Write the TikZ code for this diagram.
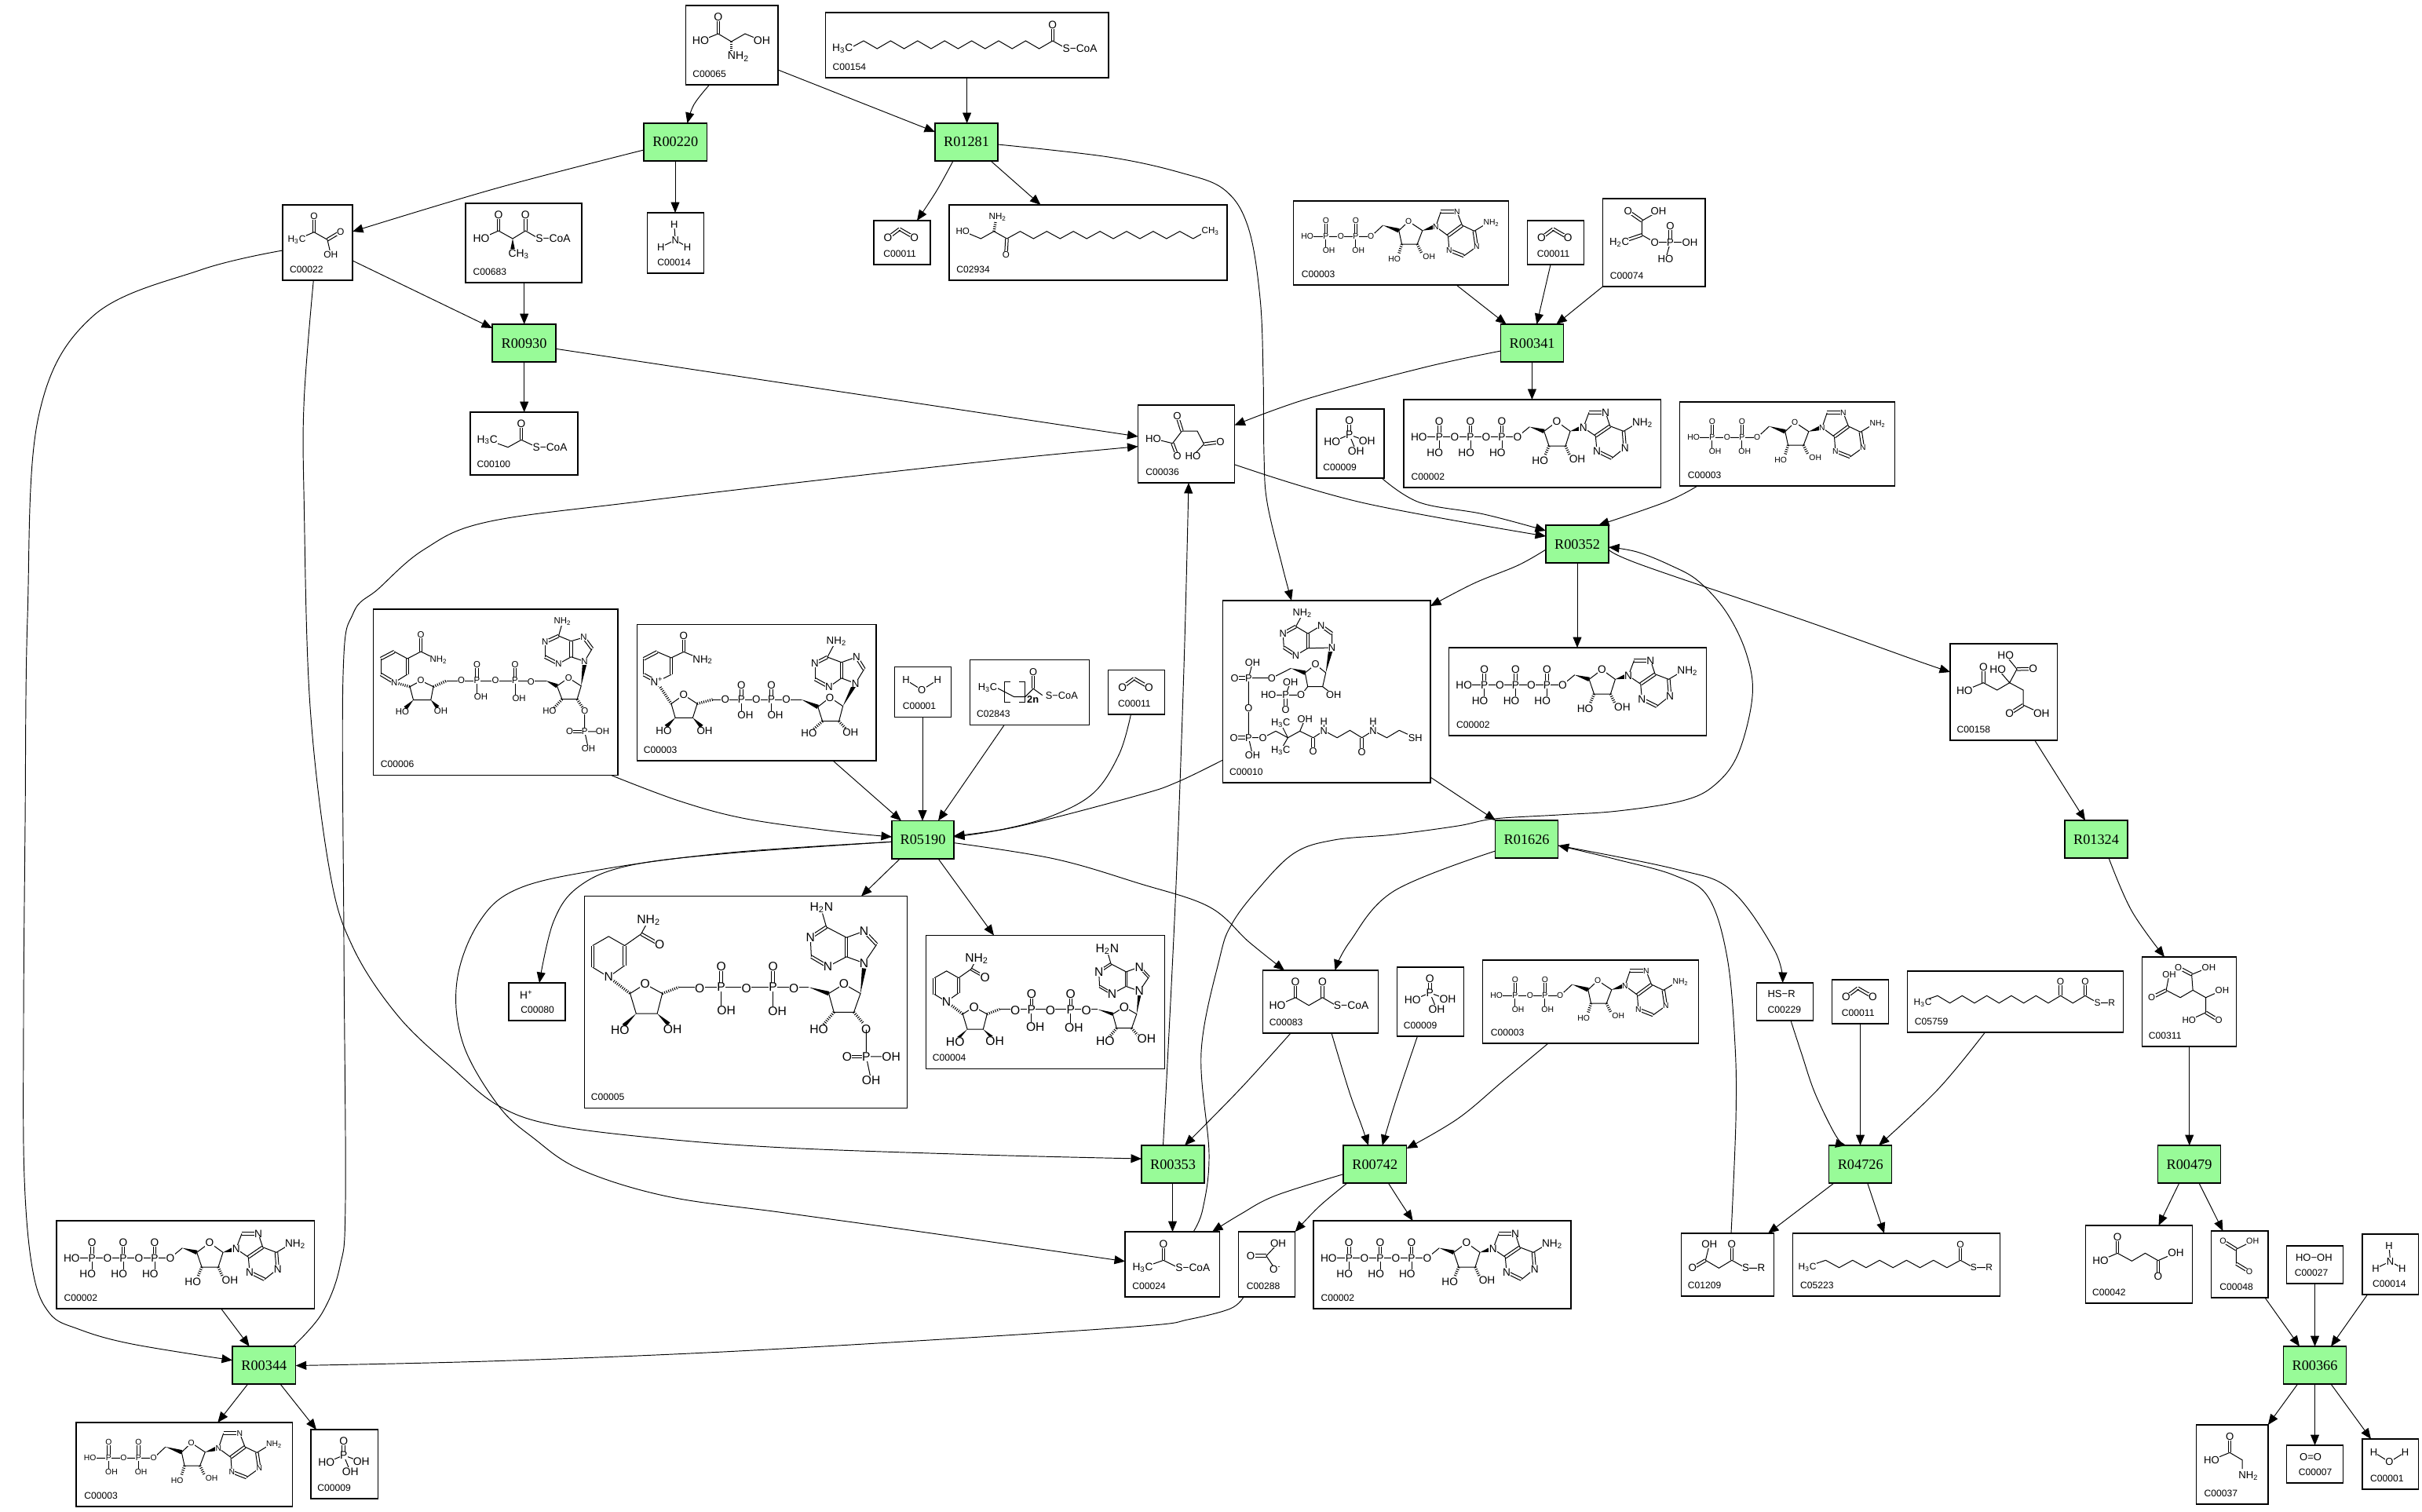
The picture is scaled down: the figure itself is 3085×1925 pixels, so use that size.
\documentclass[tikz,border=0pt]{standalone}
\usepackage{fontspec}
\setmainfont{Liberation Sans}
\newfontfamily\serfam{Liberation Serif}
\usetikzlibrary{arrows.meta,calc}
\newcount\an
\def\asz{7.8}
\tikzset{
 cpd/.style={draw=black,line width=.028cm,fill=white,inner sep=0pt,outer sep=0pt},
 rxn/.style={draw=black,line width=.028cm,fill=rxngreen,inner sep=0pt,outer sep=0pt,font=\serfam\fontsize{10.4}{12}\selectfont},
 lbl/.style={anchor=base west,inner sep=0pt,font=\fontsize{6.9}{8}\selectfont},
 edge/.style={draw=black,line width=.019cm,-{Triangle[length=.27cm,width=.22cm]}},
 bd/.style={draw=black,line width=.02cm},
 atm/.style={inner sep=.2pt,fill=white,font=\fontsize{\asz}{\asz}\selectfont},
}
\definecolor{rxngreen}{RGB}{152,251,152}
\newcommand\Bd[1]{\draw[bd] #1;}
\newcommand\Db[2]{\draw[bd] ($(#1)!.035cm!90:(#2)$) -- ($(#2)!.035cm!-90:(#1)$);\draw[bd] ($(#1)!.035cm!-90:(#2)$) -- ($(#2)!.035cm!90:(#1)$);}
\newcommand\Wd[2]{\fill[black] (#1) -- ($(#2)!.055cm!90:(#1)$) -- ($(#2)!.055cm!-90:(#1)$) -- cycle;}
\newcommand\Hs[2]{\draw[line width=.07cm,dash pattern=on .02cm off .035cm] (#1) -- (#2);}
\newcommand\At[2]{\global\advance\an by 1 \node[atm] (t\the\an) at (#1) {#2};}
\newcommand\Zg[5]{\draw[bd] (#1,#2) \foreach \i in {1,...,#5} { -- ({#1+\i*#3},{#2+#4*mod(\i,2)}) };}
\newcommand\Mol[4]{\begin{scope}[shift={(#1,#2)},scale=#3]#4\end{scope}}
\newcommand\cbox[7]{\node[cpd,minimum width={(#5-#3)*0.02cm},minimum height={(#6-#4)*0.02cm}] (#1) at ({(#3+#5)/2},{(#4+#6)/2}) {};
 \node[lbl] (#1-l) at ({#3+#7},{#6-10}) {#2};}
\newcommand\rbox[5]{\node[rxn,minimum width={(#4-#2)*0.02cm},minimum height={(#5-#3)*0.02cm}] (#1) at ({(#2+#4)/2},{(#3+#5)/2}) {#1};}
\newcommand\Ec[1]{\draw[edge] plot[smooth,tension=.6] coordinates {#1};}
\newcommand\tb{\textsubscript{2}}
\newcommand\tc{\textsubscript{3}}
% ---------- molecules
\newcommand\mATP{\def\asz{7.8}
\Db{45.3,47.3}{45.3,28}\Db{85,47.3}{85,28}\Db{125,47.3}{125,28}
\Bd{(19.3,47.3)--(145,47.3)--(160.3,34.7)}
\Bd{(45.3,47.3)--(45.3,67) (85,47.3)--(85,67) (125,47.3)--(125,67)}
\Wd{160.3,34.7}{178.7,40.3}
\Bd{(178.7,40.3)--(195,28)--(212,40.3)--(206,59)--(185,59)--(178.7,40.3)}
\Hs{185,59}{180,71}\Hs{206,59}{211,70}\Wd{212,40.3}{224,37}
\Bd{(228.7,35.7)--(236,16.3)}\Db{236,16.3}{257,16.3}
\Bd{(257,16.3)--(262.7,33.7)--(280,40.3)--(294,32) (228.7,35.7)--(244.3,46.3)}
\Db{244.3,46.3}{262.7,33.7}\Db{280,40.3}{281.7,61.3}\Bd{(281.7,61.3)--(265,74.7)}\Db{265,74.7}{246,65.3}\Bd{(246,65.3)--(244.3,46.3)}
\At{19.3,47.3}{HO}\At{45.3,47.3}{P}\At{45.3,28}{O}\At{39.7,67.3}{HO}\At{65,47.3}{O}\At{85,47.3}{P}\At{85,28}{O}\At{79.7,67.3}{HO}\At{105,47.3}{O}\At{125,47.3}{P}\At{125,28}{O}\At{119.3,67.3}{HO}\At{145,47.3}{O}
\At{195,28}{O}\At{173.7,77.3}{HO}\At{221,75.7}{OH}\At{228.7,35.7}{N}\At{257,16.3}{N}\At{304,29.7}{NH\tb}\At{281.7,61.3}{N}\At{246,65.3}{N}}
\newcommand\mADP{\def\asz{5.9}
\Db{41.3,45.3}{41.3,25}\Db{79.3,45.3}{79.3,25}
\Bd{(17.7,45.3)--(98.7,45.3)--(114,31)}
\Bd{(41.3,45.3)--(41.3,63) (79.3,45.3)--(79.3,63)}
\Wd{114,31}{134.3,37.7}
\Bd{(134.3,37.7)--(146.7,26)--(164.3,37.7)--(157.7,55)--(138,55)--(134.3,37.7)}
\Hs{138,55}{134,68}\Hs{157.7,55}{163,66}\Wd{164.3,37.7}{178,33.5}
\Bd{(181.3,32.7)--(187.7,13.7)}\Db{187.7,13.7}{208.3,13.7}
\Bd{(208.3,13.7)--(215,31)--(230.3,38.3)--(244,30) (181.3,32.7)--(197,44.3)}
\Db{197,44.3}{215,31}\Db{230.3,38.3}{233.3,58.3}\Bd{(233.3,58.3)--(217,70)}\Db{217,70}{198.3,62.7}\Bd{(198.3,62.7)--(197,44.3)}
\At{17.7,45.3}{HO}\At{41.3,45.3}{P}\At{41.3,25}{O}\At{45,63.3}{OH}\At{60.3,45.3}{O}\At{79.3,45.3}{P}\At{79.3,25}{O}\At{82.7,63.3}{OH}\At{98.7,45.3}{O}
\At{146.7,26}{O}\At{128.7,74.3}{HO}\At{172.7,71}{OH}\At{181.3,32.7}{N}\At{208.3,13.7}{N}\At{252,27.7}{NH\tb}\At{233.3,58.3}{N}\At{198.3,62.7}{N}}
\newcommand\mPi{\def\asz{7.9}
\Db{41.7,32.7}{41.7,14.3}\Bd{(41.7,32.7)--(19.7,42) (41.7,32.7)--(64.3,41) (41.7,32.7)--(50.3,53.7)}
\At{41.7,14.3}{O}\At{41.7,32.7}{P}\At{19.7,42}{HO}\At{64.3,41}{OH}\At{50.3,53.7}{OH}}
\newcommand\mCO{\def\asz{7.8}
\Db{18,21.7}{32.8,10.7}\Db{32.8,10.7}{51.7,21.7}\At{17.9,21.7}{O}\At{51.7,21.7}{O}}
\newcommand\mNH{\def\asz{7.4}
\Bd{(35.7,34.7)--(34.2,14.7) (35.7,34.7)--(17.3,43.7) (35.7,34.7)--(51,43.7)}
\At{34.2,14.7}{H}\At{35.7,34.7}{N}\At{17.3,43.7}{H}\At{51,43.7}{H}}
\newcommand\mWat{\def\asz{7.4}
\Bd{(14.6,16.7)--(34.7,29.3)--(54.8,16.7)}\At{14.6,16.7}{H}\At{54.8,16.7}{H}\At{34.7,29.3}{O}}
\newcommand\mNADH[2]{\def\asz{8.9}
\Bd{(30.6,103)--(10.2,90.6)}\Db{10.2,90.6}{10.2,63}\Bd{(10.2,63)--(30.6,51.3)--(51,63)--(72,48.2)--(81.6,30.4)}\Db{51,63}{51,88.4}\Bd{(51,88.4)--(30.6,103)}\Db{72,48.2}{95.7,61.6}
\Hs{30.6,103}{58,124}
\Bd{(58,124)--(77,112)--(99,124)--(92.5,149.6)--(65.7,149.6)--(58,124)}
\Wd{65.7,149.6}{50,165}\Wd{92.5,149.6}{107,163}\Hs{99,124}{120,116}
\Db{174,116}{174,89.7}\Db{240,116}{240,89.7}
\Bd{(120,116)--(285.7,116) (174,116)--(174,145) (240,116)--(240,145)}
\Wd{285.7,116}{311,124}
\Bd{(311,124)--(330.4,112)--(351.4,124)--(343,147.8)--(317.6,147.8)--(311,124)}
\Hs{317.6,147.8}{304,164}\Hs{343,147.8}{355,162}\Wd{351.4,124}{356,92}
\Bd{(356,85.3)--(372,61.6)}\Db{372,61.6}{356,44.6}\Bd{(356,44.6)--(333.6,52.7)--(308,39.3)--(303,22) (356,85.3)--(333.6,77.2)}
\Db{333.6,77.2}{333.6,52.7}\Db{308,39.3}{287.6,52.7}\Bd{(287.6,52.7)--(288.8,77.2)}\Db{288.8,77.2}{310,89.7}\Bd{(310,89.7)--(333.6,77.2)}
\At{30.6,103}{N}\At{81.6,30.4}{NH\tb}\At{95.7,61.6}{O}\At{77,112}{O}\At{45.3,171}{HO}\At{112,169.6}{OH}\At{146.7,117.4}{O}\At{174,116}{P}\At{174,89.7}{O}\At{180.5,145.5}{OH}\At{206,117.4}{O}\At{240,116}{P}\At{240,89.7}{O}\At{245.5,146.4}{OH}\At{266.6,117.4}{O}
\At{330.4,112}{O}\At{298.5,170}{HO}\At{#1}{#2}\At{356,85.3}{N}\At{356,44.6}{N}\At{301.8,14.7}{H\tb N}\At{287.6,52.7}{N}\At{310,89.7}{N}}
\newcommand\mNADPtail{\Bd{(358.7,170)--(358.7,204.4)--(390.5,204.4) (358.7,204.4)--(365,234.4)}\Db{358.7,204.4}{334.4,204.4}
\At{358.7,204.4}{P}\At{334.4,204.4}{O}\At{390.5,204.4}{OH}\At{365,234.4}{OH}}
\newcommand\mNADP{\def\asz{6.5}
\Db{26.8,93.3}{9.6,83}\Bd{(9.6,83)--(9.6,63)}\Db{9.6,63}{26.8,54}\Bd{(26.8,54)--(43.4,63)--(60.6,54)--(83,65)}\Db{43.4,63}{43.4,83}\Bd{(43.4,83)--(26.8,93.3)}\Db{60.6,54}{60.6,33}
\Hs{26.8,93.3}{46.6,98.7}
\Bd{(46.6,98.7)--(60.6,91)--(76.5,98.7)--(73.3,115.6)--(51,115.6)--(46.6,98.7)}
\Wd{51,115.6}{41,126}\Wd{73.3,115.6}{82,125}\Hs{76.5,98.7}{93.8,91}
\Db{132,91}{132,70.5}\Db{180.5,91}{180.5,70.5}
\Bd{(93.8,91)--(220,91) (132,91)--(132,112) (180.5,91)--(180.5,112)}
\Wd{220,91}{234,97.8}
\Bd{(234,97.8)--(248.7,87.5)--(264.7,97.8)--(259.6,114.7)--(240.4,114.7)--(234,97.8)}
\Hs{240.4,114.7}{230,126}\Hs{259.6,114.7}{267,126}\Wd{264.7,97.8}{269,70}
\Bd{(269,66.5)--(278.7,50.4)}\Db{278.7,50.4}{268,36}\Bd{(268,36)--(252,40.6)--(236,34)--(240,20) (269,66.5)--(252,60.7)}
\Db{252,60.7}{252,40.6}\Db{236,34}{218.7,42}\Bd{(218.7,42)--(218.7,60.7)}\Db{218.7,60.7}{236,69.6}\Bd{(236,69.6)--(252,60.7)}
\Bd{(269.2,130)--(269.2,155.8)--(292,155.8) (269.2,155.8)--(274,178)}\Db{269.2,155.8}{250,155.8}
\At{26.8,93.3}{N}\At{60.6,33}{O}\At{83,65}{NH\tb}\At{60.6,91}{O}\At{37,131}{HO}\At{86,130}{OH}\At{112,91}{O}\At{132,91}{P}\At{132,70.5}{O}\At{137,112}{OH}\At{155.6,91}{O}\At{180.5,91}{P}\At{180.5,70.5}{O}\At{185.6,113.4}{OH}\At{200.9,92.4}{O}
\At{248.7,87.5}{O}\At{224.5,130}{HO}\At{269.2,130}{O}\At{269.2,155.8}{P}\At{250,155.8}{O}\At{292,155.8}{OH}\At{274,178}{OH}\At{269,66.5}{N}\At{268,36}{N}\At{241,16}{NH\tb}\At{218.7,42}{N}\At{236,69.6}{N}}
\newcommand\mNAD{\def\asz{7.6}
\Db{24.9,72.8}{8.3,63.8}\Bd{(8.3,63.8)--(8.3,43.8)}\Db{8.3,43.8}{25.5,34.8}\Bd{(25.5,34.8)--(43.4,42.4)--(59.3,34.8)--(83.5,45)}\Db{43.4,42.4}{43.4,63.8}\Bd{(43.4,63.8)--(24.9,72.8)}\Db{59.3,34.8}{59.3,14.7}
\Hs{24.9,72.8}{43.4,100.9}
\Bd{(43.4,100.9)--(59.3,89.7)--(76.5,100.9)--(70.8,118.8)--(48.5,118.8)--(43.4,100.9)}
\Wd{48.5,118.8}{37,130}\Wd{70.8,118.8}{82,130}\Hs{76.5,100.9}{96.3,95.5}
\Db{132.7,95.5}{132.7,77.2}\Db{171,95.5}{171,77.2}
\Bd{(96.3,95.5)--(209.2,95.5) (132.7,95.5)--(132.7,115) (171,95.5)--(171,115)}
\Wd{209.2,95.5}{230.2,104.9}
\Bd{(230.2,104.9)--(245.5,92.9)--(262,104)--(257,123.2)--(236,123.2)--(230.2,104.9)}
\Hs{236,123.2}{224,134}\Hs{257,123.2}{266,133}\Wd{262,104}{276,78}
\Bd{(278,75)--(289,57)}\Db{289,57}{279.3,41.5}\Bd{(279.3,41.5)--(260.2,48.2)--(242.3,41.5)--(250,27) (278,75)--(260.2,68.3)}
\Db{260.2,68.3}{260.2,48.2}\Db{242.3,41.5}{226.4,49.6}\Bd{(226.4,49.6)--(226.4,69.6)}\Db{226.4,69.6}{244.3,79.5}\Bd{(244.3,79.5)--(260.2,68.3)}
\At{24.9,72.8}{N\textsuperscript{+}}\At{59.3,14.7}{O}\At{83.5,45}{NH\tb}\At{59.3,89.7}{O}\At{33.8,135.3}{HO}\At{86,135.3}{OH}\At{112.2,95.5}{O}\At{132.7,95.5}{P}\At{132.7,77.2}{O}\At{137.8,115.2}{OH}\At{151.8,95.5}{O}\At{171,95.5}{P}\At{171,77.2}{O}\At{176,115.2}{OH}\At{190,95.5}{O}
\At{245.5,92.9}{O}\At{218.8,138.4}{HO}\At{271.7,137.5}{OH}\At{278,75}{N}\At{279.3,41.5}{N}\At{253.8,21.4}{NH\tb}\At{226.4,49.6}{N}\At{244.3,79.5}{N}}
\newcommand\mCoA{\def\asz{7.3}
\Bd{(92.9,33)--(101,18)}\Db{92.9,33}{76.5,42}\Bd{(76.5,42)--(77.6,59.7)}\Db{77.6,59.7}{92.9,69.7}\Bd{(92.9,69.7)--(108.2,60.7)}\Db{108.2,60.7}{108.2,42}\Bd{(108.2,42)--(92.9,33) (108.2,42)--(125,32)}\Db{125,32}{138.8,42}\Bd{(138.8,42)--(138.8,60)--(108.2,60.7)}
\Wd{131,92}{137,64}
\Bd{(131,92)--(117.9,81.3)--(104.6,92)--(108,109.7)--(127,109.7)--(131,92) (127,109.7)--(141,120.3) (108,109.7)--(99.5,120.3)}
\Wd{86.7,86.3}{104.6,92}\Bd{(86.7,86.3)--(62.2,98.7)--(32.7,98.7)--(32.7,174.7)--(51,174.7)--(67.3,166.3)--(82.7,174.7)--(98,166.3)--(115,174.7)--(128.6,165.7)--(145.4,174.7)--(161.7,165.3)--(177,174.7)--(191.3,165.7)--(208.7,174.7)--(224.5,165.3)--(245,174.7)}
\Bd{(32.7,98.7)--(37.8,78.7) (32.7,174.7)--(37.8,197) (82.7,174.7)--(73.5,156.3) (82.7,174.7)--(73.5,190.7) (98,166.3)--(104.6,150.7) (128.6,165.7)--(128.6,153.7) (191.3,165.7)--(191.3,153.7)}
\Db{32.7,98.7}{14.8,98.7}\Db{32.7,174.7}{13.8,174.7}\Db{115,174.7}{115,192}\Db{177,174.7}{177,193}
\Bd{(99.5,120.3)--(58,120.3) (80,120.3)--(86,103.7)}\Db{80,120.3}{80,138.7}
\At{101,16.3}{NH\tb}\At{76.5,42}{N}\At{92.9,69.7}{N}\At{125,32}{N}\At{138.8,60}{N}\At{117.9,81.3}{O}\At{141,120.3}{OH}\At{62.2,98.7}{O}\At{32.7,98.7}{P}\At{14.8,98.7}{O}\At{37.8,78.7}{OH}\At{32.7,137}{O}\At{32.7,174.7}{P}\At{13.8,174.7}{O}\At{37.8,197}{OH}\At{51,174.7}{O}\At{73.5,156.3}{H\tc C}\At{73.5,190.7}{H\tc C}\At{104.6,150.7}{OH}\At{115,192}{O}\At{128.6,165.7}{N}\At{128.6,153.7}{H}\At{177,193}{O}\At{191.3,165.7}{N}\At{191.3,153.7}{H}\At{245,174.7}{SH}
\At{99.5,120.3}{O}\At{80,120.3}{P}\At{86,103.7}{OH}\At{58,120.3}{HO}\At{80,138.7}{O}}
% ---------- page
\begin{document}
\begin{tikzpicture}[x=0.02cm,y=-0.02cm]
\useasboundingbox[fill=white] (0,0) rectangle (3085,1925);
% reactions
\rbox{R00220}{820}{157}{900.5}{205}
\rbox{R01281}{1191}{157}{1271}{205}
\rbox{R00930}{627}{413}{708}{461}
\rbox{R00341}{1911.6}{413}{1991.7}{461}
\rbox{R00352}{1969}{669}{2049}{717}
\rbox{R05190}{1136}{1045.5}{1215}{1093.8}
\rbox{R01626}{1904.6}{1045}{1984.7}{1093}
\rbox{R01324}{2630}{1045}{2710}{1093}
\rbox{R00353}{1454}{1459}{1534}{1507}
\rbox{R00742}{1711}{1459}{1791.6}{1507}
\rbox{R04726}{2329.7}{1459}{2409.7}{1507}
\rbox{R00479}{2748.5}{1459}{2828.5}{1507}
\rbox{R00344}{296}{1715}{376.7}{1763}
\rbox{R00366}{2908.3}{1715}{2988.7}{1763}
% compounds
\cbox{C00065}{C00065}{873.5}{7}{991}{108}{8.5}
\Mol{873.5}{7}{1}{\def\asz{8}\Db{41.3,36}{41.3,15}\Bd{(19,45)--(41.3,36)--(58,46)--(75.5,36)--(97,45)}\Hs{58,46}{58,58}\At{41.3,15}{O}\At{19,45}{HO}\At{97,45}{OH}\At{67,65.3}{NH\tb}}
\cbox{C00154}{C00154}{1051.5}{16}{1412}{99}{8.7}
\Mol{1051.5}{16}{1}{\def\asz{7.8}\Bd{(30,46)--(48.5,36)}\Zg{48.5}{36}{17.2}{10}{14}\Db{289.3,36}{289.3,16}\Bd{(289.3,36)--(307,46)}\At{21.7,46}{H\tc C}\At{289.3,16}{O}\At{324,46}{S−CoA}}
\cbox{C00014a}{C00014}{824.5}{271}{896.5}{348}{12.5}
\Mol{824.5}{271}{1}{\mNH}
\cbox{C00011a}{C00011}{1113}{281}{1185}{337}{12}
\Mol{1113}{281}{1}{\mCO}
\cbox{C02934}{C02934}{1209}{261}{1563}{357}{9}
\Mol{1209}{261}{1}{\def\asz{6.6}\Bd{(17.3,33.3)--(40.3,43)--(57,33.7)--(73.5,43)}\Hs{57,33.7}{59,22}\Db{73.5,43}{72.4,63}\Zg{73.5}{43}{16.94}{-9.3}{14}\Bd{(310.7,43)--(325,35)}\At{17.3,33.3}{HO}\At{61.7,15.3}{NH\tb}\At{72.4,63}{O}\At{332.7,33.7}{CH\tc}}
\cbox{C00022}{C00022}{360}{261}{449}{357}{8.7}
\Mol{360}{261}{1}{\def\asz{6.8}\Bd{(18,44.3)--(40,34.7)--(57,44.3)--(61.3,63)}\Db{40,34.7}{40,14.3}\Db{57,44.3}{73.7,34.3}\At{18,44.3}{H\tc C}\At{40,14.3}{O}\At{73.7,34.3}{O}\At{61.3,63}{OH}}
\cbox{C00683}{C00683}{593}{259}{741}{360}{9.3}
\Mol{593}{259}{1}{\def\asz{7.9}\Db{42,35}{42,14.7}\Bd{(20,44.7)--(42,35)--(60,45)--(76.3,35)--(93,44.7)}\Wd{60,45}{60,58}\Db{76.3,35}{76.3,14.7}\At{42,14.7}{O}\At{20,44.7}{HO}\At{76.3,14.7}{O}\At{67.7,64.7}{CH\tc}\At{111.5,44.7}{S−CoA}}
\cbox{C00100}{C00100}{599}{525}{736}{605}{8.3}
\Mol{599}{525}{1}{\def\asz{7.8}\Bd{(21.7,35.3)--(48,44.7)--(65,35.3)--(85,44.7)}\Db{65,35.3}{65,14.7}\At{21.7,35.3}{H\tc C}\At{65,14.7}{O}\At{101.5,44.7}{S−CoA}}
\cbox{C00003b}{C00003}{1647.5}{256}{1921.6}{363}{10}
\Mol{1647.5}{256}{1}{\mADP}
\cbox{C00011b}{C00011}{1945.5}{281}{2017.6}{337}{12}
\Mol{1945.5}{281}{1}{\mCO}
\cbox{C00074}{C00074}{2041.5}{253}{2172}{365}{9}
\Mol{2041.5}{253}{1}{\def\asz{7.5}\Db{32.3,16}{49.8,28.3}\Bd{(49.8,28.3)--(71,16) (49.8,28.3)--(49.8,46.3)--(66.2,55.7)--(111,55.7) (86,55.7)--(80,77.3)}\Db{49.8,46.3}{21,56}\Db{86,55.7}{86,35}\At{32.3,16}{O}\At{71,16}{OH}\At{21,56}{H\tb C}\At{66.2,55.7}{O}\At{86,55.7}{P}\At{86,35}{O}\At{111,55.7}{OH}\At{80,77.3}{HO}}
\cbox{C00009a}{C00009}{1677}{521}{1763}{609}{8}
\Mol{1677}{521}{1}{\mPi}
\cbox{C00002a}{C00002}{1788}{509}{2115.6}{621}{9.3}
\Mol{1788}{509}{1}{\mATP}
\cbox{C00003c}{C00003}{2139.5}{512}{2413.6}{619}{10}
\Mol{2139.5}{512}{1}{\mADP}
\cbox{C00036}{C00036}{1449.5}{516}{1572.4}{615}{9.5}
\Mol{1449.5}{516}{1}{\def\asz{7.5}\Db{56,33}{50,14.3}\Bd{(56,33)--(44,48.7)--(19.4,42.7) (56,33)--(75.5,33)--(84,49.7)--(70,64.7)}\Db{44,48.7}{50,64.7}\Db{84,49.7}{105,47}\At{50,14.3}{O}\At{19.4,42.7}{HO}\At{50,64.7}{O}\At{105,47}{O}\At{70,64.7}{HO}}
\cbox{C00010}{C00010}{1557.7}{765}{1822}{997}{8}
\Mol{1557.7}{765}{1}{\mCoA}
\cbox{C00002b}{C00002}{1845.4}{825}{2173.5}{937}{9.3}
\Mol{1845.4}{825}{1}{\mATP}
\cbox{C00158}{C00158}{2484}{820}{2620.7}{943}{8.3}
\Mol{2484}{820}{1}{\def\asz{7.8}\Bd{(70.7,14.7)--(85,32.3)--(75.7,49.7)--(60.7,32.3) (18.3,59.7)--(42.3,49.7)--(59.7,59)--(75.7,49.7)--(93,59)--(93,78)--(116.3,89)}\Db{85,32.3}{105.7,32}\Db{42.3,49.7}{42.3,29.7}\Db{93,78}{75.7,89}\At{70.7,14.7}{HO}\At{105.7,32}{O}\At{60.7,32.3}{HO}\At{42.3,29.7}{O}\At{18.3,59.7}{HO}\At{75.7,89}{O}\At{116.3,89}{OH}}
\cbox{C00006}{C00006}{475.5}{776}{787}{987.5}{9}
\Mol{475.5}{776}{1}{\mNADP}
\cbox{C00003a}{C00003}{811.6}{795.5}{1115.8}{969}{8}
\Mol{811.6}{795.5}{1}{\mNAD}
\cbox{C00001a}{C00001}{1139.4}{849.5}{1211.5}{913.4}{10}
\Mol{1139.4}{849.5}{1}{\mWat}
\cbox{C02843}{C02843}{1235.7}{840.6}{1387.5}{923.7}{8}
\Mol{1235.7}{840.6}{1}{\def\asz{7.3}\Bd{(33,35)--(56,47)--(70,47)--(80.4,36.6)--(92,45)}\Db{80.4,36.6}{80.4,15.2}\Bd{(51,27.7)--(43.4,27.7)--(43.4,53.6)--(51,53.6) (62.5,27.7)--(70,27.7)--(70,53.6)--(62.5,53.6)}\At{22.3,35.3}{H\tc C}\At{80.4,15.2}{O}\At{116.7,45.5}{S−CoA}\At{80,50}{\textbf{2n}}}
\cbox{C00011c}{C00011}{1411.7}{853.6}{1483.7}{910}{12}
\Mol{1411.7}{853.6}{1}{\mCO}
\cbox{C00080}{C00080}{648}{1252}{720}{1300}{15}
\Mol{648}{1252}{1}{\def\asz{7.8}\At{22.3,15.6}{H\textsuperscript{+}}}
\cbox{C00005}{C00005}{744.6}{1141.5}{1155.4}{1411.6}{8}
\Mol{744.6}{1141.5}{1}{\mNADH{358.7,170}{O}\mNADPtail}
\cbox{C00004}{C00004}{1179.6}{1191.5}{1483.5}{1361.6}{8}
\Mol{1182.5}{1198.1}{.755}{\mNADH{368,166}{OH}}
\cbox{C00083}{C00083}{1608.6}{1236}{1755.4}{1316}{8}
\Mol{1608.6}{1236}{1}{\def\asz{7.9}\Db{41.5,34.7}{41.5,14.7}\Bd{(18.3,44.7)--(41.5,34.7)--(58.5,44.7)--(75.9,34.7)--(93,44.7)}\Db{75.9,34.7}{75.9,14.7}\At{41.5,14.7}{O}\At{18.3,44.7}{HO}\At{75.9,14.7}{O}\At{112.5,44.7}{S−CoA}}
\cbox{C00009b}{C00009}{1779.6}{1232}{1864.4}{1320}{8}
\Mol{1779.6}{1232}{1}{\mPi}
\cbox{C00003d}{C00003}{1888.5}{1223}{2163.5}{1329}{10}
\Mol{1888.5}{1223}{1}{\mADP}
\cbox{C00288}{C00288}{1577.5}{1569}{1649.6}{1652}{10}
\Mol{1577.5}{1569}{1}{\def\asz{7.6}\Bd{(50.5,14.7)--(35.4,30.7)--(46.9,48)}\Db{35.4,30.7}{15.6,30.7}\At{50.5,14.7}{OH}\At{15.6,30.7}{O}\At{46.9,48}{O\textsuperscript{-}}}
\cbox{C00024}{C00024}{1433}{1569}{1553.6}{1652}{9}
\Mol{1433}{1569}{1}{\def\asz{7.8}\Db{49,36.3}{49,15.7}\Bd{(22.5,45.7)--(49,36.3)--(67.5,45.7)}\At{49,15.7}{O}\At{22.5,45.7}{H\tc C}\At{86.3,45.7}{S−CoA}}
\cbox{C00002c}{C00002}{1673}{1555}{2001}{1667}{9.3}
\Mol{1673}{1555}{1}{\mATP}
\cbox{C01209}{C01209}{2141.6}{1571}{2259.5}{1651}{8}
\Mol{2141.6}{1571}{1}{\def\asz{7.6}\Bd{(35.7,14.3)--(30.8,34.3)--(47.8,44.3)--(64.3,34.3)--(82,44.3)--(101.8,44.3)}\Db{30.8,34.3}{14.3,44.3}\Db{64.3,34.3}{64.3,14.3}\At{35.7,14.3}{OH}\At{14.3,44.3}{O}\At{64.3,14.3}{O}\At{82,44.3}{S}\At{101.8,44.3}{R}}
\cbox{C00229}{C00229}{2237.6}{1252}{2309.4}{1300}{13.6}
\Mol{2237.6}{1252}{1}{\def\asz{7.4}\At{31.5,14.3}{HS−R}}
\cbox{C00011d}{C00011}{2333.6}{1248}{2405.3}{1304}{12}
\Mol{2333.6}{1248}{1}{\mCO}
\cbox{C05759}{C05759}{2429.6}{1237}{2704.4}{1315}{9}
\Mol{2429.6}{1237}{1}{\def\asz{6.8}\Bd{(25,36)--(38.3,31.3)}\Zg{38.3}{31.3}{15.67}{9.4}{12}\Db{195,31.3}{195,13.3}\Db{226.3,31.3}{226.3,13.3}\Bd{(226.3,31.3)--(242,40.3)--(260,40.3)}\At{19.4,40.3}{H\tc C}\At{195,13.3}{O}\At{226.3,13.3}{O}\At{242,40.3}{S}\At{260,40.3}{R}}
\cbox{C00311}{C00311}{2728.6}{1219}{2848.4}{1333}{8}
\Mol{2728.6}{1219}{1}{\def\asz{6.6}\Db{63,22.3}{46,13.3}\Bd{(63,22.3)--(84.8,13.3) (63,22.3)--(64.5,42.3)--(48.5,51.7)--(30.5,42.3)--(34.4,22.3) (64.5,42.3)--(81,51.7)--(101.8,42.3) (81,51.7)--(81,70.7)--(59.6,80.7)}\Db{30.5,42.3}{12,51.7}\Db{81,70.7}{97.4,80.7}\At{46,13.3}{O}\At{84.8,13.3}{OH}\At{34.4,22.3}{OH}\At{12,51.7}{O}\At{101.8,42.3}{OH}\At{59.6,80.7}{HO}\At{97.4,80.7}{O}}
\cbox{C05223}{C05223}{2283.7}{1571}{2547.4}{1651}{9}
\Mol{2283.7}{1571}{1}{\def\asz{6.8}\Bd{(25,40)--(41.7,34.3)}\Zg{41.7}{34.3}{17.16}{9.4}{10}\Db{213.3,34.3}{213.3,14.3}\Bd{(213.3,34.3)--(230.2,43.7)--(250,43.7)}\At{18.4,43.7}{H\tc C}\At{213.3,14.3}{O}\At{230.2,43.7}{S}\At{250,43.7}{R}}
\cbox{C00042}{C00042}{2656.4}{1561}{2792.6}{1660}{8.3}
\Mol{2656.4}{1561}{1}{\def\asz{7.7}\Db{40.7,35.3}{40.7,14.7}\Bd{(19,44.7)--(40.7,35.3)--(59,45.3)--(76,35.3)--(92.4,44.7)--(115,34.7)}\Db{92.4,44.7}{92.4,64.7}\At{40.7,14.7}{O}\At{19,44.7}{HO}\At{115,34.7}{OH}\At{92.4,64.7}{O}}
\cbox{C00048}{C00048}{2816.4}{1568}{2889}{1653}{10.7}
\Mol{2816.4}{1568}{1}{\def\asz{6.1}\Db{32,23.3}{15,12.7}\Bd{(32,23.3)--(52.8,12.7) (32,23.3)--(32,41.7)}\Db{32,41.7}{48.5,51.7}\At{15,12.7}{O}\At{52.8,12.7}{OH}\At{48.5,51.7}{O}}
\cbox{C00027}{C00027}{2912.6}{1587}{2984.4}{1635}{10}
\Mol{2912.6}{1587}{1}{\def\asz{7.4}\At{34.7,14.7}{HO−OH}}
\cbox{C00014b}{C00014}{3008.8}{1572}{3080.6}{1649}{13}
\Mol{3008.8}{1572}{1}{\mNH}
\cbox{C00037}{C00037}{2797.5}{1815}{2888.8}{1916}{9.7}
\Mol{2797.5}{1815}{1}{\def\asz{7.5}\Db{42.6,35.3}{42.6,14.7}\Bd{(19.5,44.7)--(42.6,35.3)--(58.5,44.7)--(58.5,56)}\At{42.6,14.7}{O}\At{19.5,44.7}{HO}\At{66.4,65.3}{NH\tb}}
\cbox{C00007}{C00007}{2912.6}{1841}{2984.4}{1889}{15}
\Mol{2912.6}{1841}{1}{\def\asz{7.4}\At{30.5,14.7}{O=O}}
\cbox{C00001b}{C00001}{3008.8}{1833}{3080.6}{1897}{10}
\Mol{3008.8}{1833}{1}{\mWat}
\cbox{C00002d}{C00002}{72}{1555}{400.7}{1667}{9.3}
\Mol{72}{1555}{1}{\mATP}
\cbox{C00003e}{C00003}{97}{1812}{372.7}{1919}{10}
\Mol{97}{1812}{1}{\mADP}
\cbox{C00009c}{C00009}{396}{1821}{481.7}{1909}{8}
\Mol{396}{1821}{1}{\mPi}
% connectors
\Ec{(C00065.south -| 903.6,0) (884,133) (R00220.north -| 875.5,0)}
\draw[edge] (C00065.east |- 0,89) -- (R01281.west |- 0,168);
\draw[edge] (C00154.south -| 1231.6,0) -- (R01281.north -| 1231.6,0);
\draw[edge] (R00220.south -| 860,0) -- (C00014a.north -| 860,0);
\Ec{(R00220.west |- 0,191) (631.7,240) (C00022.east |- 0,295)}
\Ec{(R01281.south -| 1214,0) (1193,243) (C00011a.north -| 1168,0)}
\draw[edge] (R01281.south -| 1262,0) -- (C02934.north -| 1325.5,0);
\Ec{(R01281.east |- 0,184) (1412,200) (1504,220) (1560,242) (1590,290) (1605,380) (1609,480) (1610,580) (1614,640) (1633,720) (C00010.north -| 1645,0)}
\draw[edge] (C00022.east |- 0,332) -- (R00930.west |- 0,418);
\draw[edge] (C00683.south -| 667.7,0) -- (R00930.north -| 667.7,0);
\draw[edge] (R00930.south -| 667.7,0) -- (C00100.north -| 667.7,0);
\draw[edge] (R00930.east |- 0,444.3) -- (C00036.west |- 0,556);
\Ec{(R00341.west |- 0,447) (1814,468) (1665,508) (C00036.east |- 0,541.7)}
\draw[edge] (C00003b.south -| 1855,0) -- (R00341.north -| 1918.6,0);
\draw[edge] (C00011b.south -| 1975,0) -- (R00341.north -| 1957.4,0);
\draw[edge] (C00074.south west) -- (R00341.north -| 1982.3,0);
\draw[edge] (R00341.south -| 1951.4,0) -- (C00002a.north -| 1951.4,0);
\Ec{(C00036.east |- 0,591.7) (1734,640) (R00352.west |- 0,683)}
\Ec{(C00009a.south -| 1760,0) (1808,640) (1890,655) (R00352.west |- 0,676)}
\Ec{(C00003c.south -| 2162,0) (2122.6,639) (R00352.north -| 2036,0)}
\Ec{(R00352.west |- 0,700) (1933.7,720) (1877.5,743) (C00010.east |- 0,772)}
\draw[edge] (R00352.south -| 2009,0) -- (C00002b.north -| 2009,0);
\Ec{(R00352.east |- 0,700) (2092,720) (2300,791) (2440,841) (C00158.west |- 0,856)}
\draw[edge] (C00010.east |- 0,990) -- (R01626.north -| 1905,0);
\Ec{(C00010.west |- 0,968) (1500,996) (1450,1013) (1300,1052) (R05190.east |- 0,1066)}
\Ec{(C00024.north -| 1520,0) (1532,1540) (1540,1470) (1530,1340) (1553.6,1220) (1569,1177) (1602,1133) (1648,1087) (1699,1070) (1775.5,1063) (1857,1052) (1903,1043) (1985,1038) (2061,1033) (2143,1020) (2184,1000) (2214,960) (2232,887) (2224.5,833) (2199,780) (2163,740) (2127.5,720) (2085,703) (R00352.east |- 0,697)}
\Ec{(C00006.south -| 778.4,0) (864.5,1020) (947.4,1042.4) (1055.9,1058) (R05190.west |- 0,1066)}
\draw[edge] (C00003a.south -| 1061,0) -- (R05190.north -| 1148,0);
\draw[edge] (C00001a.south -| 1175,0) -- (R05190.north -| 1175,0);
\draw[edge] (C02843.south -| 1279,0) -- (R05190.north -| 1195,0);
\Ec{(C00011c.south -| 1440.4,0) (1425.8,960) (1394,1009) (1343,1038) (1279,1056) (R05190.east |- 0,1064.7)}
\Ec{(R05190.west |- 0,1072.3) (928,1087) (800.8,1102.7) (737,1129.5) (705,1174) (C00080.north -| 687,0)}
\draw[edge] (R05190.south -| 1146.4,0) -- (C00005.north -| 1097,0);
\draw[edge] (R05190.south -| 1195,0) -- (C00004.north -| 1266,0);
\Ec{(R05190.east |- 0,1073.6) (1343,1094) (1450,1125) (1540,1155) (1591,1200) (C00083.north -| 1636,0)}
\Ec{(R05190.west |- 0,1072.3) (930,1086) (769,1107) (660,1132) (610,1175) (582,1250) (590,1330) (635,1408.5) (680,1450) (740,1490) (850,1524) (1000,1545) (1180,1570) (C00024.west |- 0,1606.7)}
\Ec{(C00022.south -| 399.3,0) (387.3,510) (387.3,640) (395,900) (420,1110) (450,1207.6) (507.4,1294.6) (577.5,1361.6) (635,1408.5) (705,1433) (839,1450) (1000,1462) (1250,1471) (R00353.west |- 0,1476)}
\Ec{(C00083.south -| 1644,0) (1580,1386.7) (R00353.north -| 1509,0)}
\Ec{(C00083.south -| 1696,0) (1718.4,1390) (1734,1433) (R00742.north -| 1743,0)}
\Ec{(C00009b.south -| 1805.4,0) (1776.4,1406.7) (R00742.north -| 1760.8,0)}
\Ec{(C00003d.south -| 1972,0) (1914.8,1376.7) (1856.8,1425) (R00742.east |- 0,1463)}
\Ec{(R00353.north -| 1481.5,0) (1497,1150) (1508,850) (C00036.south -| 1514,0)}
\draw[edge] (R00353.south -| 1493.5,0) -- (C00024.north -| 1493.5,0);
\Ec{(R00742.west |- 0,1495.7) (1624.6,1523) (1580,1546.7) (C00024.north -| 1544,0)}
\Ec{(R00742.south -| 1716,0) (1680,1537) (C00288.north east)}
\Ec{(R00742.south -| 1768.4,0) (1785,1533) (C00002c.north -| 1799.6,0)}
\Ec{(C00288.south -| 1584,0) (1567,1667) (1514,1680.7) (1456.7,1689) (1200,1706) (900,1723) (620,1734) (R00344.east |- 0,1739.5)}
\draw[edge] (C00002d.south -| 281.7,0) -- (R00344.north -| 317.7,0);
\Ec{(C00022.west |- 0,319) (255,344) (118,403) (49,531) (35,787) (32,1050) (30,1300) (31,1500) (42,1620) (63.3,1673) (100,1693) (166.7,1711.7) (R00344.west |- 0,1732.7)}
\Ec{(R00344.north -| 373.3,0) (410,1673) (433,1613) (440,1530) (438,1200) (437,860) (450,781) (482,750) (540,700) (620,665) (813,639) (1100,605) (1300,583) (C00036.west |- 0,568.7)}
\Ec{(R01626.west |- 0,1084) (1775.5,1135) (1719,1200) (C00083.north -| 1700.5,0)}
\Ec{(R01626.east |- 0,1077) (2132.6,1106.7) (2204,1133) (2260,1210) (C00229.north -| 2270.6,0)}
\Ec{(C01209.north -| 2205,0) (2211,1427) (2210,1332) (2200,1220) (2176,1143) (2132.6,1115) (2060,1095) (R01626.east |- 0,1077)}
\Ec{(C00229.south -| 2281,0) (2295,1343) (2312,1393) (2338.4,1446.7) (R04726.north -| 2351.5,0)}
\draw[edge] (C00011d.south -| 2369.5,0) -- (R04726.north -| 2369.5,0);
\Ec{(C05759.south -| 2528.4,0) (2469,1387) (R04726.north -| 2393,0)}
\draw[edge] (R04726.south -| 2336,0) -- (C01209.north -| 2252,0);
\draw[edge] (R04726.south -| 2378.7,0) -- (C05223.north -| 2400,0);
\draw[edge] (C00158.south -| 2591.7,0) -- (R01324.north -| 2656,0);
\Ec{(R01324.south -| 2686,0) (2715,1160) (C00311.north -| 2757,0)}
\draw[edge] (C00311.south -| 2788.7,0) -- (R00479.north -| 2788.7,0);
\draw[edge] (R00479.south -| 2775.7,0) -- (C00042.north -| 2749.5,0);
\draw[edge] (R00479.south -| 2801,0) -- (C00048.north -| 2831.4,0);
\draw[edge] (C00048.south -| 2885,0) -- (R00366.north -| 2929,0);
\draw[edge] (C00027.south -| 2948.5,0) -- (R00366.north -| 2948.5,0);
\draw[edge] (C00014b.south -| 3015.5,0) -- (R00366.north -| 2969,0);
\draw[edge] (R00366.south -| 2926.6,0) -- (C00037.north east);
\draw[edge] (R00366.south -| 2948.5,0) -- (C00007.north -| 2948.5,0);
\draw[edge] (R00366.south -| 2969,0) -- (C00001b.north -| 3020,0);
\draw[edge] (R00344.south -| 315.7,0) -- (C00003e.north -| 277.3,0);
\draw[edge] (R00344.south -| 357,0) -- (C00009c.north -| 403,0);
\end{tikzpicture}
\end{document}
